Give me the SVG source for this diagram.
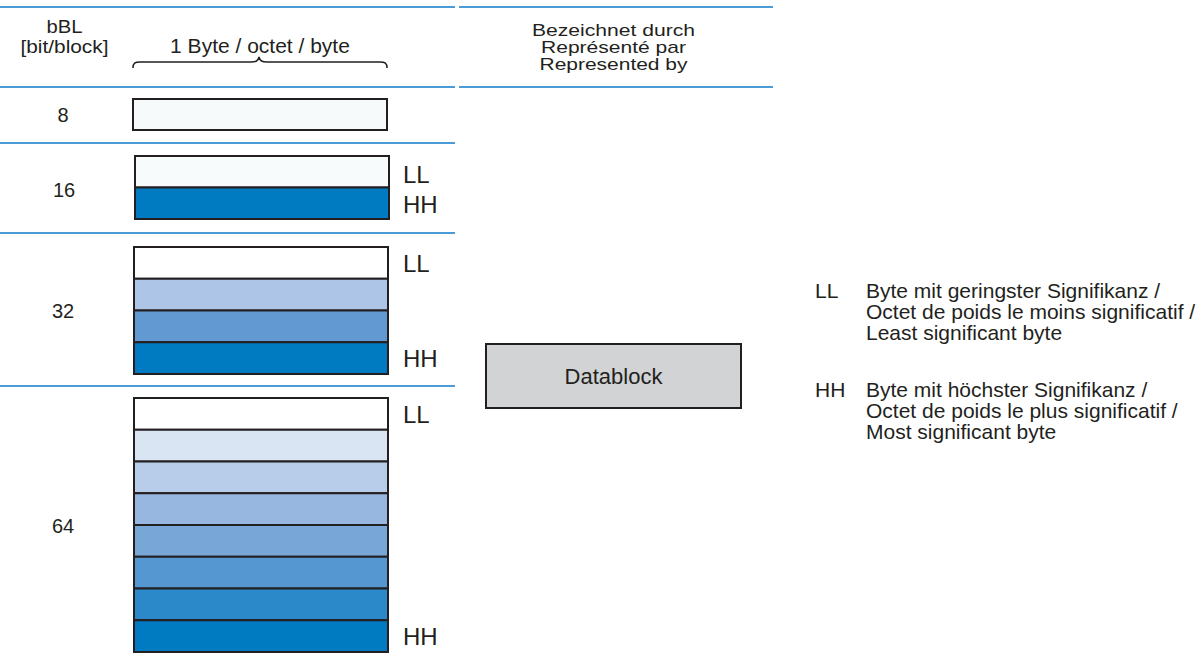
<svg xmlns="http://www.w3.org/2000/svg" width="1204" height="660" viewBox="0 0 1204 660">
<style>
text{font-family:"Liberation Sans",Arial,sans-serif;fill:#231f20}
.rule{stroke:#4a9bd6;stroke-width:2;fill:none}
.cell{stroke:#231f20;stroke-width:2}
.hdr{font-size:19px;text-anchor:middle}
.rep{font-size:17px;text-anchor:middle}
.num{font-size:20px;text-anchor:middle}
.tag{font-size:24px}
.leg{font-size:21px}
</style>
<rect width="1204" height="660" fill="#ffffff"/>
<g id="rules">
<line class="rule" x1="0" y1="7" x2="455" y2="7"/>
<line class="rule" x1="459" y1="7" x2="773" y2="7"/>
<line class="rule" x1="0" y1="87" x2="455" y2="87"/>
<line class="rule" x1="459" y1="87" x2="773" y2="87"/>
<line class="rule" x1="0" y1="143" x2="455" y2="143"/>
<line class="rule" x1="0" y1="233" x2="455" y2="233"/>
<line class="rule" x1="0" y1="386" x2="455" y2="386"/>
</g>
<g id="header">
<text class="hdr" x="64.5" y="33" textLength="36" lengthAdjust="spacingAndGlyphs">bBL</text>
<text class="hdr" x="64.5" y="52.5" textLength="88" lengthAdjust="spacingAndGlyphs">[bit/block]</text>
<text class="hdr" x="260" y="52.5" style="font-size:21px">1 Byte / octet / byte</text>
<path d="M133,68 C133,63 135,62 140,62 L251,62 C256,62 258,61 259,57 C260,61 262,62 267,62 L380,62 C385,62 387,63 387,68" fill="none" stroke="#231f20" stroke-width="1.5"/>
<text class="rep" x="613.5" y="35.5" textLength="163" lengthAdjust="spacingAndGlyphs">Bezeichnet durch</text>
<text class="rep" x="613.5" y="52.5" textLength="145" lengthAdjust="spacingAndGlyphs">Représenté par</text>
<text class="rep" x="613.5" y="69.5" textLength="148" lengthAdjust="spacingAndGlyphs">Represented by</text>
</g>
<g id="block8">
<text class="num" x="63" y="122">8</text>
<rect class="cell" x="133" y="99" width="254" height="31" fill="#f7fafa"/>
</g>
<g id="block16">
<text class="num" x="64" y="197">16</text>
<rect class="cell" x="135" y="156" width="254" height="31.5" fill="#f8fbfb"/>
<rect class="cell" x="135" y="187.5" width="254" height="31.5" fill="#007bc2"/>
<text class="tag" x="403" y="182.5">LL</text>
<text class="tag" x="403" y="213">HH</text>
</g>
<g id="block32">
<text class="num" x="63" y="318">32</text>
<rect class="cell" x="134" y="247" width="254" height="31.75" fill="#ffffff"/>
<rect class="cell" x="134" y="278.75" width="254" height="31.75" fill="#adc6e7"/>
<rect class="cell" x="134" y="310.5" width="254" height="31.75" fill="#6399d2"/>
<rect class="cell" x="134" y="342.25" width="254" height="31.75" fill="#007ac1"/>
<text class="tag" x="403" y="272">LL</text>
<text class="tag" x="403" y="367">HH</text>
</g>
<g id="block64">
<text class="num" x="63" y="533">64</text>
<rect class="cell" x="134" y="398" width="254" height="31.75" fill="#ffffff"/>
<rect class="cell" x="134" y="429.75" width="254" height="31.75" fill="#dae5f3"/>
<rect class="cell" x="134" y="461.5" width="254" height="31.75" fill="#b8cde9"/>
<rect class="cell" x="134" y="493.25" width="254" height="31.75" fill="#97b7e0"/>
<rect class="cell" x="134" y="525" width="254" height="31.75" fill="#78a6d7"/>
<rect class="cell" x="134" y="556.75" width="254" height="31.75" fill="#5597d1"/>
<rect class="cell" x="134" y="588.5" width="254" height="31.75" fill="#2b89c9"/>
<rect class="cell" x="134" y="620.25" width="254" height="31.75" fill="#007ac1"/>
<text class="tag" x="403" y="423">LL</text>
<text class="tag" x="403" y="645">HH</text>
</g>
<g id="datablock">
<rect x="486" y="344" width="255" height="64" fill="#d1d3d4" stroke="#231f20" stroke-width="2"/>
<text x="613.5" y="384" style="font-size:22px;text-anchor:middle">Datablock</text>
</g>
<g id="legend">
<text class="leg" x="815" y="298">LL</text>
<text class="leg" x="866" y="298">Byte mit geringster Signifikanz /</text>
<text class="leg" x="866" y="319">Octet de poids le moins significatif /</text>
<text class="leg" x="866" y="340">Least significant byte</text>
<text class="leg" x="815" y="397">HH</text>
<text class="leg" x="866" y="397">Byte mit höchster Signifikanz /</text>
<text class="leg" x="866" y="418">Octet de poids le plus significatif /</text>
<text class="leg" x="866" y="439">Most significant byte</text>
</g>
</svg>
